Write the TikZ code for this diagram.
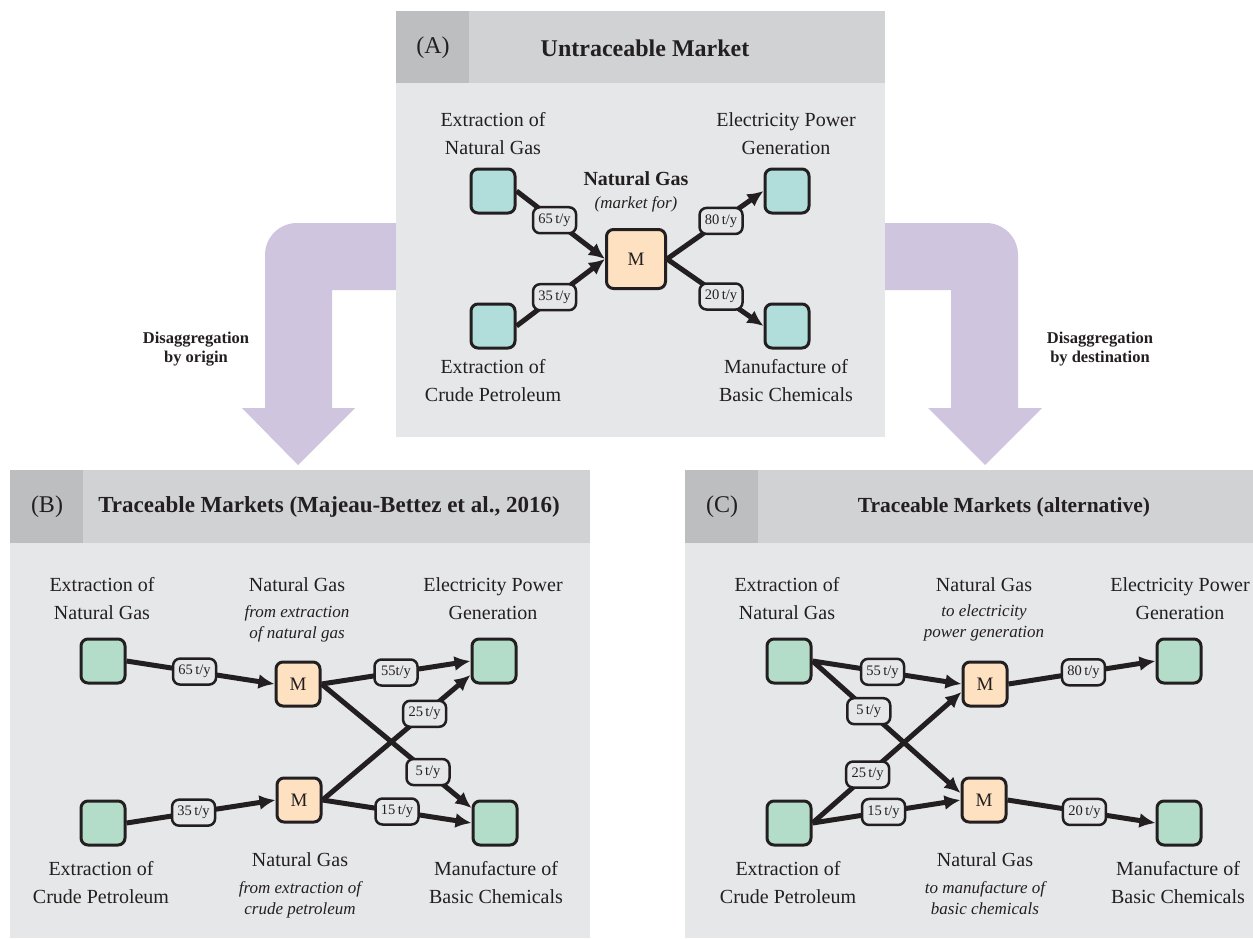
\documentclass[tikz,border=0pt]{standalone}
\usepackage{fontspec}
\setmainfont{Liberation Serif}
\usetikzlibrary{arrows.meta,calc}
\definecolor{ink}{HTML}{231F20}
\definecolor{bodygray}{HTML}{E6E7E8}
\definecolor{headgray}{HTML}{D1D2D4}
\definecolor{tabgray}{HTML}{BCBEC0}
\definecolor{tealbox}{HTML}{B1DEDB}
\definecolor{mintbox}{HTML}{B3DDC9}
\definecolor{peach}{HTML}{FEE1C1}
\definecolor{purp}{HTML}{CFC5DF}
\begin{document}
\begin{tikzpicture}[x=1pt,y=-1pt,
  procbox/.style={draw=ink, line width=3pt, rounded corners=7pt, minimum width=44pt, minimum height=44pt, inner sep=0pt},
  tealp/.style={procbox, fill=tealbox},
  mintp/.style={procbox, fill=mintbox},
  mkt/.style={procbox, fill=peach, font=\fontsize{19}{20}\selectfont, text=ink},
  flow/.style={draw=ink, line width=5pt, -{Latex[length=16pt,width=15pt]}},
  lbl/.style={draw=ink, fill=bodygray, line width=2.5pt, rounded corners=7pt, minimum width=43pt, minimum height=26pt, inner sep=1pt, font=\fontsize{14.5}{16}\selectfont, text=ink},
  txt/.style={align=center, font=\fontsize{20}{28}\selectfont, text=ink},
  btxt/.style={align=center, font=\fontsize{20}{24}\selectfont\bfseries, text=ink},
  itxt/.style={align=center, font=\fontsize{17}{21}\selectfont\itshape, text=ink},
  ttl/.style={font=\fontsize{24}{28}\selectfont\bfseries, text=ink},
  tabtxt/.style={font=\fontsize{24}{28}\selectfont, text=ink},
  disag/.style={align=center, font=\fontsize{16.5}{19}\selectfont\bfseries, text=ink}
]
\useasboundingbox (0,0) rectangle (1253,938);
\fill[white] (0,0) rectangle (1253,938);

% purple arrows
\fill[purp] (265,408) -- (265,255) .. controls (265,237.3) and (279.3,223) .. (297,223) -- (420,223) -- (420,290) -- (332,290) -- (332,408) -- (355,408) -- (298,465) -- (242,408) -- cycle;
\fill[purp] (1018,408) -- (1018,255) .. controls (1018,237.3) and (1003.7,223) .. (986,223) -- (860,223) -- (860,290) -- (951,290) -- (951,408) -- (928,408) -- (985,465) -- (1042,408) -- cycle;
\node[disag] (dorig) at (196,349) {Disaggregation\\by origin};
\node[disag] (ddest) at (1100,349) {Disaggregation\\by destination};

% panels
\fill[bodygray] (396,11) rectangle (885,437);
\fill[headgray] (396,11) rectangle (885,83);
\fill[tabgray] (396,11) rectangle (469,83);
\fill[bodygray] (10,470) rectangle (590,938);
\fill[headgray] (10,470) rectangle (590,543);
\fill[tabgray] (10,470) rectangle (83,543);
\fill[bodygray] (685,470) rectangle (1253,938);
\fill[headgray] (685,470) rectangle (1253,543);
\fill[tabgray] (685,470) rectangle (758,543);

\node[tabtxt] (tabA) at (433,48) {(A)};
\node[ttl] (ttlA) at (645,48) {Untraceable Market};
\node[tabtxt] (tabB) at (47,507) {(B)};
\node[ttl, font=\fontsize{23}{28}\selectfont\bfseries] (ttlB) at (329,507) {Traceable Markets (Majeau-Bettez et al., 2016)};
\node[tabtxt] (tabC) at (722,507) {(C)};
\node[ttl, font=\fontsize{21.5}{28}\selectfont\bfseries] (ttlC) at (1004,507) {Traceable Markets (alternative)};

% ---------- Panel A ----------
\node[tealp] (ngA) at (493,191) {};
\node[tealp] (elA) at (787,191) {};
\node[tealp] (cpA) at (493,326) {};
\node[tealp] (bcA) at (787,326) {};
\node[mkt, minimum width=59pt, minimum height=59pt] (mA) at (636,259) {M};
\node[txt] (tngA) at (493,134) {Extraction of\\Natural Gas};
\node[txt] (telA) at (786,134) {Electricity Power\\Generation};
\node[txt] (tcpA) at (493,381) {Extraction of\\Crude Petroleum};
\node[txt] (tbcA) at (786,381) {Manufacture of\\Basic Chemicals};
\node[btxt] (tmA) at (636,179) {Natural Gas};
\node[itxt] (tmA2) at (636,204) {(market for)};
\draw[flow] (ngA.east) -- (mA.west) node[lbl, pos=0.43] {65\,t/y};
\draw[flow] (cpA.east) -- (mA.west) node[lbl, pos=0.43] {35\,t/y};
\draw[flow] (mA.east) -- (elA.west) node[lbl, pos=0.56] {80\,t/y};
\draw[flow] (mA.east) -- (bcA.west) node[lbl, pos=0.56] {20\,t/y};

% ---------- Panel B ----------
\node[mintp] (ngB) at (103,661) {};
\node[mkt] (mB1) at (298,684) {M};
\node[mintp] (elB) at (494,661) {};
\node[mintp] (cpB) at (103,823) {};
\node[mkt] (mB2) at (299,800) {M};
\node[mintp] (bcB) at (495,823) {};
\node[txt] (tngB) at (102,599) {Extraction of\\Natural Gas};
\node[txt] (tmB1) at (297,585) {Natural Gas};
\node[itxt] (tmB1s) at (297,624) {from extraction\\of natural gas};
\node[txt] (telB) at (493,599) {Electricity Power\\Generation};
\node[txt] (tcpB) at (101,883) {Extraction of\\Crude Petroleum};
\node[txt] (tmB2) at (300,860) {Natural Gas};
\node[itxt] (tmB2s) at (300,900) {from extraction of\\crude petroleum};
\node[txt] (tbcB) at (496,883) {Manufacture of\\Basic Chemicals};
\draw[flow] (ngB.east) -- (mB1.west) node[lbl, pos=0.46] {65\,t/y};
\draw[flow] (cpB.east) -- (mB2.west) node[lbl, pos=0.45] {35\,t/y};
\draw[flow] (mB1.east) -- ($(bcB.west)+(0,-15)$) node[lbl, pos=0.71] {5\,t/y};
\draw[flow] (mB2.east) -- ($(elB.west)+(0,14)$) node[lbl, pos=0.69] {25\,t/y};
\draw[flow] (mB1.east) -- (elB.west) node[lbl, pos=0.5] {55t/y};
\draw[flow] (mB2.east) -- (bcB.west) node[lbl, pos=0.5] {15\,t/y};

% ---------- Panel C ----------
\node[mintp] (ngC) at (789,661) {};
\node[mkt] (mC1) at (985,684) {M};
\node[mintp] (elC) at (1179,661) {};
\node[mintp] (cpC) at (789,823) {};
\node[mkt] (mC2) at (984,800) {M};
\node[mintp] (bcC) at (1179,823) {};
\node[txt] (tngC) at (787,599) {Extraction of\\Natural Gas};
\node[txt] (tmC1) at (984,585) {Natural Gas};
\node[itxt] (tmC1s) at (984,623) {to electricity\\power generation};
\node[txt] (telC) at (1180,599) {Electricity Power\\Generation};
\node[txt] (tcpC) at (788,883) {Extraction of\\Crude Petroleum};
\node[txt] (tmC2) at (985,860) {Natural Gas};
\node[itxt] (tmC2s) at (985,898) {to manufacture of\\basic chemicals};
\node[txt] (tbcC) at (1178,883) {Manufacture of\\Basic Chemicals};
\draw[flow] (ngC.east) -- ($(mC2.west)+(0,-7)$) node[lbl, pos=0.38] {5\,t/y};
\draw[flow] (cpC.east) -- ($(mC1.west)+(0,8)$) node[lbl, pos=0.37] {25\,t/y};
\draw[flow] (ngC.east) -- (mC1.west) node[lbl, pos=0.47] {55\,t/y};
\draw[flow] (cpC.east) -- (mC2.west) node[lbl, pos=0.48] {15\,t/y};
\draw[flow] (mC1.east) -- (elC.west) node[lbl, pos=0.51] {80\,t/y};
\draw[flow] (mC2.east) -- (bcC.west) node[lbl, pos=0.52] {20\,t/y};
\end{tikzpicture}
\end{document}
